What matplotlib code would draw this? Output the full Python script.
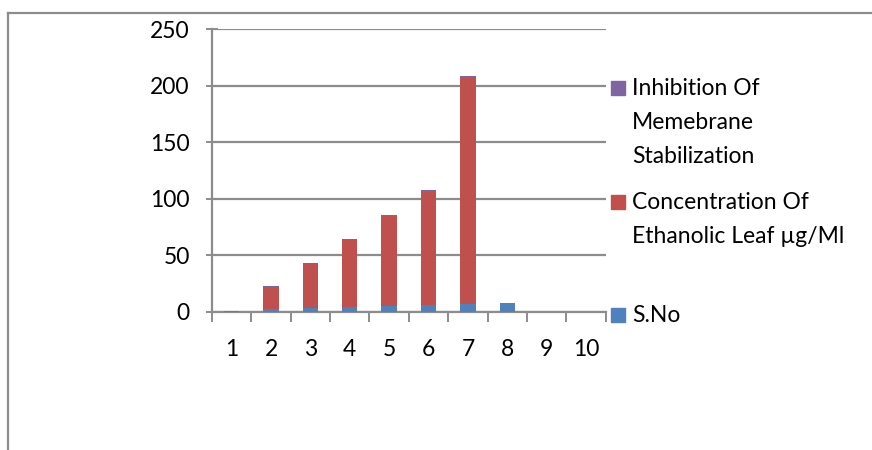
import matplotlib
matplotlib.use("Agg")
import matplotlib.pyplot as plt
import numpy as np
from matplotlib.lines import Line2D
from matplotlib.patches import Rectangle

# stacked series, bottom to top
categories = [1, 2, 3, 4, 5, 6, 7, 8, 9, 10]
s_no = [1, 2, 3, 4, 5, 6, 7, 8, 0, 0]
concentration = [0, 20, 40, 60, 80, 100, 200, 0, 0, 0]
inhibition = [0, 0.4, 0.5, 0.6, 1.0, 1.5, 1.6, 0, 0, 0]

series_names = ["S.No",
                "Concentration Of\nEthanolic Leaf \u00b5g/Ml",
                "Inhibition Of\nMemebrane\nStabilization"]
colors = ["#4F81BD", "#C0504D", "#8064A2"]
y_ticks = [0, 50, 100, 150, 200, 250]

plt.rcParams["font.family"] = ["Lato", "DejaVu Sans"]
grey = "#8c8c8c"
fs = 16.5

fig = plt.figure(figsize=(8.72, 4.5), dpi=100)
W, H = 872, 450
ax = fig.add_axes([212 / W, 1 - 311.7 / H, (605.7 - 212) / W, (311.7 - 29.3) / H])

x = np.arange(len(categories))
bottom = np.zeros(len(categories))
for vals, c in zip([s_no, concentration, inhibition], colors):
    ax.bar(x, vals, width=0.39, bottom=bottom, color=c, zorder=3)
    bottom += np.array(vals)

ax.set_xlim(-0.5, len(categories) - 0.5)
ax.set_ylim(0, 250)
ax.set_yticks(y_ticks)
ax.set_yticklabels([str(v) for v in y_ticks], fontsize=fs)
ax.yaxis.grid(True, color=grey, linewidth=1.6, zorder=0)
ax.set_axisbelow(True)

# category labels centered, ticks on the boundaries
ax.set_xticks(x)
ax.set_xticklabels([str(c) for c in categories], fontsize=fs)
ax.tick_params(axis="x", length=0, pad=20)
ax.set_xticks(np.arange(-0.5, len(categories)), minor=True)
ax.tick_params(axis="x", which="minor", length=7, width=1.4, color=grey, direction="out")
ax.tick_params(axis="y", length=8, width=1.4, color=grey, direction="inout", pad=12)

for side in ["top", "right"]:
    ax.spines[side].set_visible(False)
for side in ["left", "bottom"]:
    ax.spines[side].set_color(grey)
    ax.spines[side].set_linewidth(1.6)

# legend at the right, top entry first
entries = [(88, 2), (202, 1), (315, 0)]
for ypix, i in entries:
    fig.add_artist(Rectangle((611 / W, 1 - (ypix + 7) / H), 14 / W, 14 / H,
                             transform=fig.transFigure, color=colors[i]))
    fig.text(632 / W, 1 - (ypix - 10) / H, series_names[i], fontsize=fs,
             va="top", ha="left", linespacing=1.76,
             transform=fig.transFigure)

# outer chart frame
fig.add_artist(Line2D([8 / W, 8 / W], [0, 1 - 13 / H], color=grey, linewidth=1.6,
                      transform=fig.transFigure))
fig.add_artist(Line2D([8 / W, 1], [1 - 13 / H, 1 - 13 / H], color=grey, linewidth=1.6,
                      transform=fig.transFigure))

fig.savefig("out.png", dpi=100)
